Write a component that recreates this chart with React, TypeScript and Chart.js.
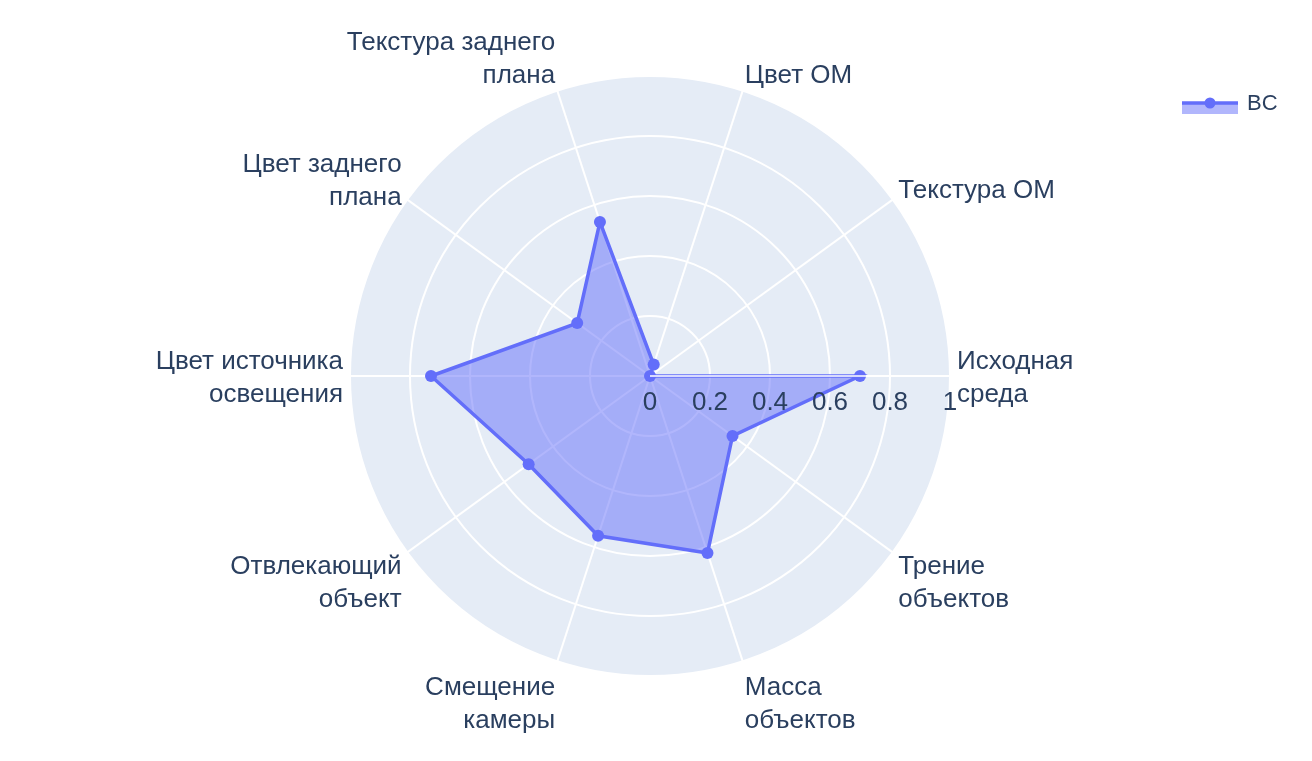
import React, { useEffect, useRef } from "react";
import { Chart, registerables } from "chart.js";

Chart.register(...registerables);

// Categories in clockwise order starting from the east (Chart.js draws clockwise)
const categories: string[][] = [
  ["Исходная", "среда"],
  ["Трение", "объектов"],
  ["Масса", "объектов"],
  ["Смещение", "камеры"],
  ["Отвлекающий", "объект"],
  ["Цвет источника", "освещения"],
  ["Цвет заднего", "плана"],
  ["Текстура заднего", "плана"],
  ["Цвет ОМ"],
  ["Текстура ОМ"],
];
const seriesName = "BC";
const seriesValues: number[] = [0.7, 0.34, 0.62, 0.56, 0.5, 0.73, 0.3, 0.54, 0.04, 0];
const radialTickValues: number[] = [0, 0.2, 0.4, 0.6, 0.8, 1];
const radialTickLabels: string[] = ["0", "0.2", "0.4", "0.6", "0.8", "1"];

const FONT_FAMILY = '"Liberation Sans", Arial, sans-serif';
const TEXT_COLOR = "#2a3f5f";
const LINE_COLOR = "#636efa";
const FILL_COLOR = "rgba(99,110,250,0.5)";
const POLAR_BG = "#e5ecf6";
const LABEL_SIZE = 26;
const TICK_SIZE = 26;
const LEGEND_SIZE = 22;
const LINE_H = 33.5;

const polarPlugin = {
  id: "plotlyPolar",
  beforeDraw(chart: any) {
    const r = chart.scales.r;
    const ctx = chart.ctx;
    ctx.save();
    ctx.fillStyle = POLAR_BG;
    ctx.beginPath();
    ctx.arc(r.xCenter, r.yCenter, r.drawingArea, 0, Math.PI * 2);
    ctx.fill();
    ctx.restore();
  },
  afterDatasetsDraw(chart: any) {
    const r = chart.scales.r;
    const ctx = chart.ctx;
    ctx.save();
    // radial axis line (drawn above traces)
    const end = r.getPointPosition(0, r.getDistanceFromCenterForValue(1));
    ctx.strokeStyle = "#ffffff";
    ctx.lineWidth = 1.5;
    ctx.beginPath();
    ctx.moveTo(r.xCenter, r.yCenter);
    ctx.lineTo(end.x, end.y);
    ctx.stroke();

    // radial tick labels
    ctx.fillStyle = TEXT_COLOR;
    ctx.font = `${TICK_SIZE}px ${FONT_FAMILY}`;
    ctx.textAlign = "center";
    ctx.textBaseline = "alphabetic";
    radialTickValues.forEach((v, i) => {
      const p = r.getPointPosition(0, r.getDistanceFromCenterForValue(v));
      ctx.fillText(radialTickLabels[i], p.x, p.y + 34);
    });

    // angular labels
    ctx.font = `${LABEL_SIZE}px ${FONT_FAMILY}`;
    categories.forEach((lines, i) => {
      const p = r.getPointPosition(i, r.drawingArea);
      const theta = r.getIndexAngle(i) - Math.PI / 2;
      const c = Math.cos(theta);
      const s = -Math.sin(theta);
      const x = p.x + 7 * c;
      ctx.textAlign = c > 0.01 ? "left" : c < -0.01 ? "right" : "center";
      const h = lines.length * LINE_H;
      const blockCenter = p.y - s * (h / 2) - 1.5 * Math.max(s, 0) + (s < -0.01 ? 9 : 0);
      lines.forEach((line, j) => {
        const cy = blockCenter - h / 2 + LINE_H / 2 + j * LINE_H;
        ctx.fillText(line, x, cy + 9.3);
      });
    });

    // legend
    const lx0 = 1182;
    const lx1 = 1238;
    const ly = 103;
    ctx.fillStyle = FILL_COLOR;
    ctx.fillRect(lx0, ly, lx1 - lx0, 11);
    ctx.strokeStyle = LINE_COLOR;
    ctx.lineWidth = 3.5;
    ctx.beginPath();
    ctx.moveTo(lx0, ly);
    ctx.lineTo(lx1, ly);
    ctx.stroke();
    ctx.fillStyle = LINE_COLOR;
    ctx.beginPath();
    ctx.arc((lx0 + lx1) / 2, ly, 5.5, 0, Math.PI * 2);
    ctx.fill();
    ctx.fillStyle = TEXT_COLOR;
    ctx.font = `${LEGEND_SIZE}px ${FONT_FAMILY}`;
    ctx.textAlign = "left";
    ctx.textBaseline = "middle";
    ctx.fillText(seriesName, 1247, ly + 1);
    ctx.restore();
  },
};

export default function App() {
  const canvasRef = useRef<HTMLCanvasElement | null>(null);

  useEffect(() => {
    const canvas = canvasRef.current;
    if (!canvas) return;
    const chart = new Chart(canvas, {
      type: "radar",
      data: {
        labels: categories,
        datasets: [
          {
            label: seriesName,
            data: seriesValues,
            borderColor: LINE_COLOR,
            backgroundColor: FILL_COLOR,
            fill: true,
            borderWidth: 3.5,
            pointRadius: 6,
            pointBackgroundColor: LINE_COLOR,
            pointBorderColor: LINE_COLOR,
            pointBorderWidth: 0,
            tension: 0,
          },
        ],
      },
      options: {
        responsive: false,
        animation: false,
        devicePixelRatio: 1,
        layout: { padding: { left: 350, right: 362, top: 76, bottom: 85 } },
        plugins: {
          legend: { display: false },
          tooltip: { enabled: false },
        },
        scales: {
          r: {
            min: 0,
            max: 1,
            startAngle: 90,
            ticks: { display: false, stepSize: 0.2 },
            grid: { circular: true, color: "#ffffff", lineWidth: 2 },
            angleLines: { color: "#ffffff", lineWidth: 2 },
            pointLabels: { display: false },
          },
        },
      },
      plugins: [polarPlugin],
    } as any);
    return () => chart.destroy();
  }, []);

  return (
    <div style={{ position: "fixed", left: 0, top: 0, width: 1312, height: 761, background: "#ffffff" }}>
      <canvas ref={canvasRef} width={1312} height={761} style={{ display: "block" }} />
    </div>
  );
}
